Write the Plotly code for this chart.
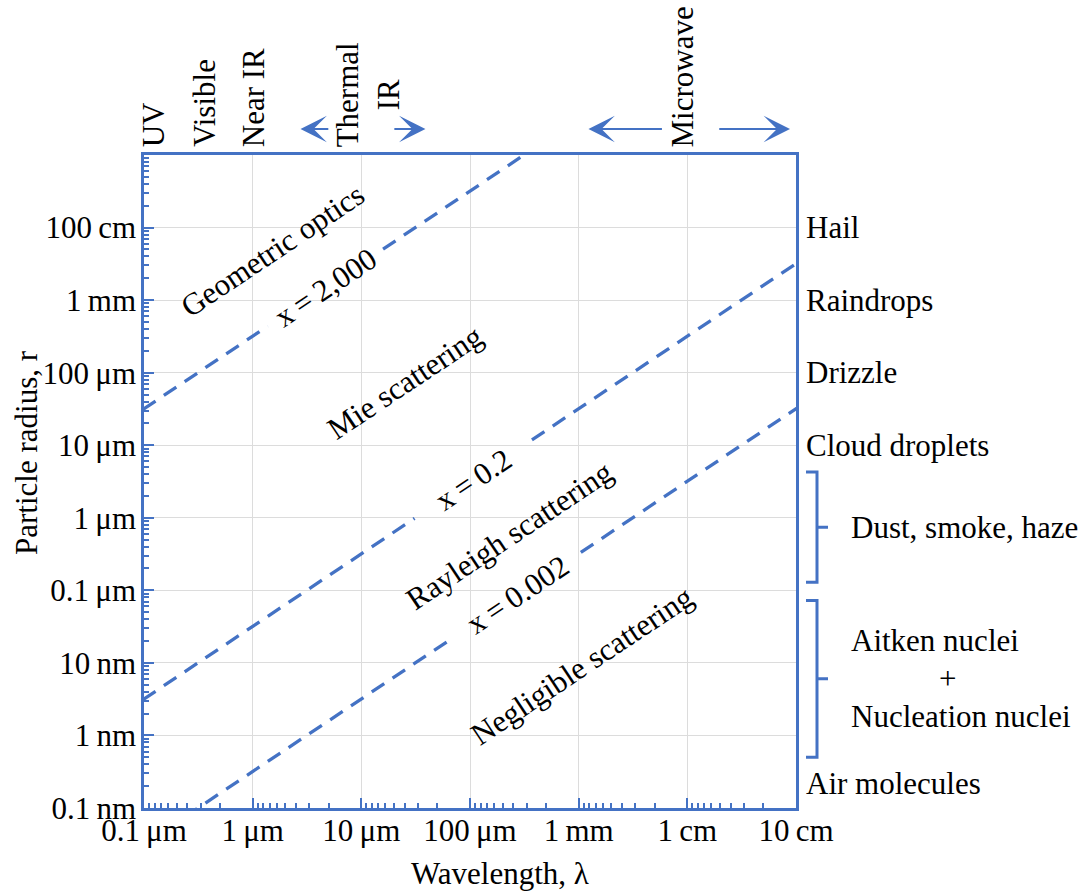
import math
import plotly.graph_objects as go

BLUE = "#4472C4"
GRID = "#dcdcdc"
FONT = "Liberation Serif"
FS = 31
TS = "\u2009"  # thin space between number and unit

# Plot box in pixels
W, H = 1088, 891
ML, MR, MT, MB = 144, 292, 155, 83
PW, PH = W - ML - MR, H - MT - MB

# Axis limits (log10 of metres)
X_LOG = [-7, -1]
Y_LOG = [-10, -1]

# Size parameter x = 2*pi*r / lambda for the regime boundaries
size_params = [2000, 0.2, 0.002]
size_labels = ["x" + TS + "=" + TS + "2,000", "x" + TS + "=" + TS + "0.2", "x" + TS + "=" + TS + "0.002"]
size_label_log_lambda = [-5.33, -3.97, -3.56]
size_label_gap = [1.06, 1.08, 1.16]  # decades of wavelength left blank around each label

# Axis ticks
x_tickvals = [1e-7, 1e-6, 1e-5, 1e-4, 1e-3, 1e-2, 1e-1]
x_ticktext = ["0.1" + TS + "μm", "1" + TS + "μm", "10" + TS + "μm", "100" + TS + "μm",
              "1" + TS + "mm", "1" + TS + "cm", "10" + TS + "cm"]
y_tickvals = [1e-10, 1e-9, 1e-8, 1e-7, 1e-6, 1e-5, 1e-4, 1e-3, 1e-2]
y_ticktext = ["0.1" + TS + "nm", "1" + TS + "nm", "10" + TS + "nm", "0.1" + TS + "μm",
              "1" + TS + "μm", "10" + TS + "μm", "100" + TS + "μm", "1" + TS + "mm",
              "100" + TS + "cm"]

# Scattering regimes written inside the chart
regimes = ["Geometric optics", "Mie scattering", "Rayleigh scattering", "Negligible scattering"]
regime_log_lambda = [-5.82, -4.60, -3.64, -2.97]
regime_log_radius = [-2.31, -4.14, -6.24, -8.03]

# Particle types along the right edge
particles = ["Hail", "Raindrops", "Drizzle", "Cloud droplets", "Air molecules"]
particle_radius = [1e-2, 1e-3, 1e-4, 1e-5, 2.2e-10]

# Bracketed particle ranges
bracket_names = ["Dust, smoke, haze", "Aitken nuclei\n+\nNucleation nuclei"]
bracket_low = [10 ** -6.89, 10 ** -9.30]
bracket_high = [10 ** -5.37, 10 ** -7.14]

# Spectral bands above the chart
bands = ["UV", "Visible", "Near IR", "Thermal<br>IR", "Microwave"]
band_lambda = [10 ** -6.91, 10 ** -6.45, 10 ** -5.99, 10 ** -4.94, 10 ** -2.04]
# arrows: (tail, head) wavelengths
band_arrows = [(10 ** -5.29, 10 ** -5.56), (10 ** -4.71, 10 ** -4.41),
               (10 ** -2.22, 10 ** -2.91), (10 ** -1.72, 10 ** -1.055)]

slope_deg = math.degrees(math.atan((PH / (Y_LOG[1] - Y_LOG[0])) / (PW / (X_LOG[1] - X_LOG[0]))))


def px_to_paper_x(px):
    return (px - ML) / PW


def log_r_to_paper_y(lr):
    return (lr - Y_LOG[0]) / (Y_LOG[1] - Y_LOG[0])


def text_font():
    return dict(family=FONT, size=FS, color="black")


fig = go.Figure()

annotations = []
for xp, lab, c, gap in zip(size_params, size_labels, size_label_log_lambda, size_label_gap):
    k = xp / (2 * math.pi)
    lam_a = 10 ** (c - gap / 2)
    lam_b = 10 ** (c + gap / 2)
    lam = [10 ** -7.2, lam_a, None, lam_b, 10 ** -0.8]
    r = [None if l is None else k * l for l in lam]
    fig.add_trace(go.Scatter(x=lam, y=r, mode="lines", connectgaps=False,
                             line=dict(color=BLUE, width=3.3, dash="15px,10px"),
                             hoverinfo="skip"))
    annotations.append(dict(x=c, y=c + math.log10(k), xref="x", yref="y", text=lab,
                            xanchor="center", yanchor="middle",
                            showarrow=False, textangle=-slope_deg, font=text_font()))

for name, lx, ly in zip(regimes, regime_log_lambda, regime_log_radius):
    annotations.append(dict(x=lx, y=ly, xref="x", yref="y", text=name, showarrow=False,
                            xanchor="center", yanchor="middle",
                            textangle=-slope_deg, font=text_font()))

for name, r in zip(particles, particle_radius):
    annotations.append(dict(x=1, y=math.log10(r), xref="paper", yref="y", text=name,
                            xanchor="left", yanchor="middle", xshift=8, showarrow=False,
                            font=text_font()))

shapes = []
x_end = px_to_paper_x(806)
x_bar = px_to_paper_x(817)
x_tip = px_to_paper_x(828)
for name, lo, hi in zip(bracket_names, bracket_low, bracket_high):
    y0 = log_r_to_paper_y(math.log10(lo))
    y1 = log_r_to_paper_y(math.log10(hi))
    ym = (y0 + y1) / 2
    path = (f"M {x_end},{y1} L {x_bar},{y1} L {x_bar},{y0} L {x_end},{y0} "
            f"M {x_bar},{ym} L {x_tip},{ym}")
    shapes.append(dict(type="path", path=path, xref="paper", yref="paper",
                       line=dict(color=BLUE, width=3)))
    lines = name.split("\n")
    if len(lines) == 1:
        annotations.append(dict(x=px_to_paper_x(849), y=ym, xref="paper", yref="paper",
                                text=lines[0], xanchor="left", yanchor="middle",
                                showarrow=False, font=text_font()))
    else:
        step = 38 / PH
        annotations.append(dict(x=px_to_paper_x(849), y=ym + step, xref="paper", yref="paper",
                                text=lines[0], xanchor="left", yanchor="middle",
                                showarrow=False, font=text_font()))
        annotations.append(dict(x=px_to_paper_x(947), y=ym, xref="paper", yref="paper",
                                text=lines[1], xanchor="center", yanchor="middle",
                                showarrow=False, font=text_font()))
        annotations.append(dict(x=px_to_paper_x(849), y=ym - step, xref="paper", yref="paper",
                                text=lines[2], xanchor="left", yanchor="middle",
                                showarrow=False, font=text_font()))

for name, lam in zip(bands, band_lambda):
    annotations.append(dict(x=math.log10(lam), y=1, xref="x", yref="paper", text=name,
                            textangle=-90, xanchor="center", yanchor="bottom", yshift=6,
                            showarrow=False, font=text_font()))

arrow_y = (H - MB - 129) / PH
for tail, head in band_arrows:
    annotations.append(dict(x=math.log10(head), y=arrow_y, xref="x", yref="paper",
                            ax=math.log10(tail), ay=0, axref="x", ayref="pixel",
                            text="", showarrow=True, arrowhead=3, arrowsize=2.2,
                            arrowwidth=2, arrowcolor=BLUE, standoff=0, startstandoff=0))

annotations.append(dict(x=px_to_paper_x(500), y=(H - MB - 873) / PH, xref="paper", yref="paper",
                        text="Wavelength, λ", xanchor="center", yanchor="middle",
                        showarrow=False, font=text_font()))
annotations.append(dict(x=px_to_paper_x(27), y=(H - MB - 453) / PH, xref="paper", yref="paper",
                        text="Particle radius, r", textangle=-90, xanchor="center",
                        yanchor="middle", showarrow=False, font=text_font()))

x_minor = [10 ** (k + 1) / n for k in range(X_LOG[0], X_LOG[1]) for n in range(2, 10)]
y_minor = [n * 10 ** k for k in range(Y_LOG[0], Y_LOG[1]) for n in range(2, 10)]

axis_common = dict(type="log", showline=True, linecolor=BLUE, linewidth=2.5, mirror=True,
                   showgrid=True, gridcolor=GRID, gridwidth=1, zeroline=False,
                   ticks="inside", ticklen=10, tickwidth=2, tickcolor=BLUE,
                   tickfont=text_font(), tickmode="array")

fig.update_layout(
    width=W, height=H,
    margin=dict(l=ML, r=MR, t=MT, b=MB, pad=0),
    plot_bgcolor="white", paper_bgcolor="white",
    showlegend=False,
    xaxis=dict(axis_common, range=X_LOG, tickvals=x_tickvals, ticktext=x_ticktext,
               ticklabelstandoff=-7,
               minor=dict(tickmode="array", tickvals=x_minor, ticks="inside", ticklen=5,
                          tickwidth=1.5, tickcolor=BLUE, showgrid=False)),
    yaxis=dict(axis_common, range=Y_LOG, tickvals=y_tickvals, ticktext=y_ticktext,
               ticklabelstandoff=-1,
               minor=dict(tickmode="array", tickvals=y_minor, ticks="inside", ticklen=5,
                          tickwidth=1.5, tickcolor=BLUE, showgrid=False)),
    annotations=annotations,
    shapes=shapes,
)

fig.write_html("out.html")
